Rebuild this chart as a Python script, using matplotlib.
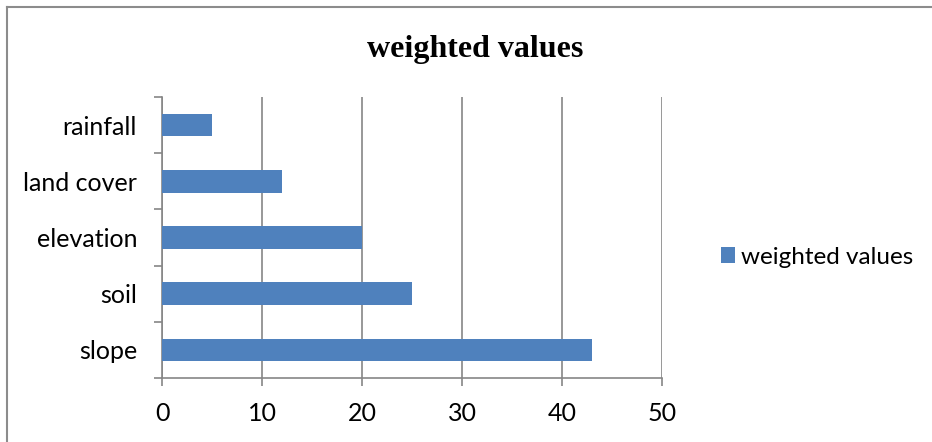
import matplotlib.pyplot as plt
from matplotlib.lines import Line2D

categories = ['slope', 'soil', 'elevation', 'land cover', 'rainfall']
values = [43, 25, 20, 12, 5]
x_ticks = [0, 10, 20, 30, 40, 50]
series_name = 'weighted values'

bar_color = '#4F81BD'
grid_color = '#868686'
label_font = ['Lato', 'DejaVu Sans']

W, H = 932, 442
fig = plt.figure(figsize=(W / 100, H / 100), dpi=100)
fig.patch.set_facecolor('white')

# chart area frame (left and top edges visible)
fig.add_artist(Line2D([7 / W, 7 / W], [0, 1 - 7 / H], transform=fig.transFigure,
                      color='#8c8c8c', lw=1.5))
fig.add_artist(Line2D([7 / W, 1], [1 - 7 / H, 1 - 7 / H], transform=fig.transFigure,
                      color='#8c8c8c', lw=1.5))

ax = fig.add_axes([162 / W, 1 - 378 / H, 500 / W, 281 / H])

bars = ax.barh(categories, values, height=0.4, color=bar_color, label=series_name,
               zorder=3)

ax.set_xlim(0, 50)
ax.set_ylim(-0.5, len(categories) - 0.5)
ax.set_xticks(x_ticks)
ax.set_xticklabels([str(t) for t in x_ticks], family=label_font, fontsize=18)

# category ticks sit between bars, labels centred on bars
ax.set_yticks([i - 0.5 for i in range(len(categories) + 1)])
ax.set_yticklabels([])
ax.set_yticks(range(len(categories)), minor=True)
ax.set_yticklabels(categories, minor=True, family=label_font, fontsize=18)
ax.tick_params(axis='y', which='minor', length=0, pad=18)
ax.tick_params(axis='y', which='major', length=6, color=grid_color, width=1.2)
ax.tick_params(axis='x', length=6, color=grid_color, width=1.2, pad=11)

ax.xaxis.grid(True, color=grid_color, lw=1.2, zorder=0)
for s in ['top', 'right']:
    ax.spines[s].set_visible(False)
for s in ['left', 'bottom']:
    ax.spines[s].set_color(grid_color)
    ax.spines[s].set_linewidth(1.2)

fig.text(475 / W, 1 - 50 / H, 'weighted values', ha='center', va='center',
         family=['Liberation Serif', 'DejaVu Serif'], fontweight='bold', fontsize=23)

fig.legend(handles=[bars], labels=[series_name], loc='center left',
           bbox_to_anchor=(711 / W, 1 - 257 / H), frameon=False,
           prop={'family': label_font, 'size': 17.5}, handlelength=0.6,
           handleheight=0.6, handletextpad=0.25, borderaxespad=0)

fig.savefig('out.png', dpi=100)
